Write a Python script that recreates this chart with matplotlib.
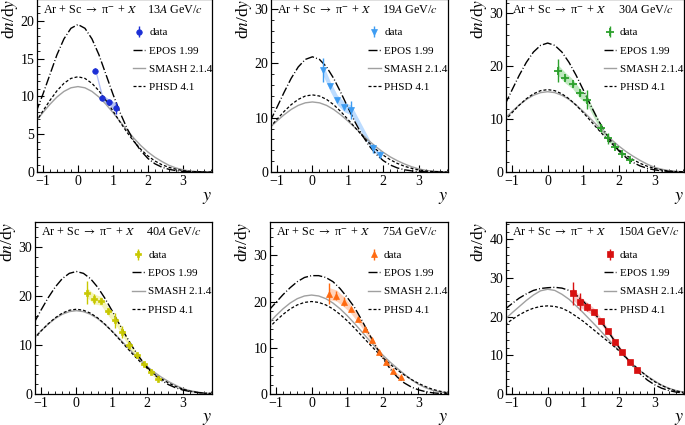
import numpy as np
import matplotlib
matplotlib.use("Agg")
import matplotlib.pyplot as plt
from matplotlib.ticker import MultipleLocator

plt.rcParams['font.family'] = ['Liberation Serif', 'DejaVu Serif']
plt.rcParams['mathtext.fontset'] = 'stix'

# rapidity grid of the model curves
y_grid = [-1.2, -1.0, -0.8, -0.6, -0.4, -0.2, 0.0, 0.2, 0.4, 0.6, 0.8, 1.0, 1.2,
          1.4, 1.6, 1.8, 2.0, 2.2, 2.4, 2.6, 2.8, 3.0, 3.2, 3.4, 3.6, 3.8]

momenta = ["13", "19", "30", "40", "75", "150"]

# EPOS 1.99
epos_13 = [7.9, 10.3, 12.9, 15.5, 17.6, 19.0, 19.5, 19.0, 17.6, 15.5, 12.9, 10.3, 7.9,
           5.8, 4.1, 2.8, 1.8, 1.1, 0.65, 0.37, 0.2, 0.1, 0.05, 0.02, 0.01, 0.0]
epos_19 = [9.26, 11.93, 14.67, 17.24, 19.34, 20.72, 21.2, 20.72, 19.34, 17.24, 14.67, 11.93, 9.26,
           6.86, 4.86, 3.29, 2.12, 1.31, 0.77, 0.43, 0.23, 0.12, 0.06, 0.03, 0.01, 0.0]
epos_30 = [12.75, 15.55, 18.29, 20.74, 22.7, 23.96, 24.4, 23.96, 22.7, 20.74, 18.29, 15.55, 12.75,
           10.09, 7.7, 5.67, 4.02, 2.76, 1.82, 1.16, 0.71, 0.43, 0.24, 0.13, 0.07, 0.03]
epos_40 = [14.45, 17.1, 19.6, 21.8, 23.53, 24.62, 25.0, 24.62, 23.53, 21.8, 19.6, 17.1, 14.45,
           11.87, 9.45, 7.29, 5.46, 3.97, 2.8, 1.91, 1.27, 0.82, 0.51, 0.31, 0.18, 0.1]
epos_75 = [18.1, 19.8, 21.5, 23.0, 24.3, 25.2, 25.6, 25.6, 25.2, 24.3, 22.8, 20.9, 18.8,
           16.1, 13.2, 10.4, 7.8, 5.5, 3.7, 2.4, 1.5, 0.9, 0.5, 0.25, 0.12, 0.05]
epos_150 = [21.9, 23.4, 24.8, 25.9, 26.8, 27.3, 27.5, 27.6, 27.4, 26.8, 25.6, 24.0, 22.0,
            19.9, 17.5, 14.8, 12.1, 9.5, 7.2, 5.2, 3.6, 2.4, 1.5, 0.9, 0.5, 0.3]

# SMASH 2.1.4
smash_13 = [6.7, 7.87, 8.96, 9.92, 10.66, 11.14, 11.3, 11.14, 10.66, 9.92, 8.96, 7.87, 6.7,
            5.56, 4.47, 3.49, 2.65, 1.96, 1.4, 0.9, 0.55, 0.3, 0.15, 0.07, 0.03, 0.01]
smash_19 = [8.19, 9.41, 10.54, 11.52, 12.27, 12.74, 12.9, 12.74, 12.27, 11.52, 10.54, 9.41, 8.19,
            6.95, 5.75, 4.64, 3.65, 2.8, 2.1, 1.5, 1.0, 0.6, 0.33, 0.18, 0.09, 0.04]
smash_30 = [10.13, 11.47, 12.69, 13.73, 14.53, 15.03, 15.2, 15.03, 14.53, 13.73, 12.69, 11.47, 10.13,
            8.75, 7.39, 6.1, 4.92, 3.89, 3.0, 2.2, 1.5, 0.9, 0.55, 0.3, 0.15, 0.07]
smash_40 = [11.4, 12.88, 14.23, 15.38, 16.26, 16.81, 17.0, 16.81, 16.26, 15.38, 14.23, 12.88, 11.4,
            9.87, 8.35, 6.91, 5.6, 4.43, 3.43, 2.55, 1.8, 1.1, 0.7, 0.4, 0.2, 0.1]
smash_75 = [15.3, 16.95, 18.43, 19.68, 20.62, 21.2, 21.4, 21.2, 20.62, 19.68, 18.43, 16.95, 15.3,
            13.55, 11.78, 10.06, 8.42, 6.93, 5.59, 4.3, 3.1, 2.1, 1.35, 0.8, 0.45, 0.22]
smash_150 = [19.3, 21.0, 22.6, 24.2, 25.6, 26.7, 27.1, 26.8, 25.8, 24.5, 22.8, 21.0, 19.1,
             17.2, 15.2, 13.2, 11.3, 9.4, 7.6, 6.0, 4.6, 3.4, 2.3, 1.5, 0.9, 0.5]

# PHSD 4.1
phsd_13 = [6.64, 8.08, 9.48, 10.74, 11.73, 12.38, 12.6, 12.38, 11.73, 10.74, 9.48, 8.08, 6.64,
           5.27, 4.04, 2.99, 2.13, 1.47, 0.97, 0.63, 0.39, 0.2, 0.1, 0.05, 0.02, 0.01]
phsd_19 = [8.23, 9.72, 11.15, 12.4, 13.37, 13.99, 14.2, 13.99, 13.37, 12.4, 11.15, 9.72, 8.23,
           6.76, 5.38, 4.16, 3.12, 2.27, 1.6, 1.08, 0.7, 0.4, 0.22, 0.11, 0.05, 0.02]
phsd_30 = [9.73, 11.24, 12.65, 13.87, 14.8, 15.4, 15.6, 15.4, 14.8, 13.87, 12.65, 11.24, 9.73,
           8.2, 6.74, 5.39, 4.21, 3.19, 2.36, 1.65, 1.1, 0.7, 0.4, 0.2, 0.1, 0.05]
phsd_40 = [11.26, 12.84, 14.29, 15.54, 16.49, 17.09, 17.3, 17.09, 16.49, 15.54, 14.29, 12.84, 11.26,
           9.64, 8.06, 6.58, 5.24, 4.08, 3.1, 2.25, 1.55, 1.0, 0.6, 0.33, 0.16, 0.08]
phsd_75 = [14.3, 15.84, 17.22, 18.4, 19.27, 19.81, 20.0, 19.81, 19.27, 18.4, 17.22, 15.84, 14.3,
           12.66, 11.01, 9.4, 7.87, 6.48, 5.22, 4.13, 3.15, 2.3, 1.6, 1.0, 0.6, 0.3]
phsd_150 = [17.9, 19.27, 20.47, 21.46, 22.2, 22.65, 22.8, 22.65, 22.2, 21.3, 20.1, 18.8, 17.3,
            15.8, 14.3, 12.8, 11.2, 9.4, 7.6, 6.0, 4.5, 3.2, 2.2, 1.4, 0.8, 0.45]

# data: rapidity, dn/dy, stat. error, syst. error
y_13 = [0.5, 0.7, 0.9, 1.1]
dndy_13 = [13.4, 9.8, 9.2, 8.5]
stat_13 = [0.3, 0.3, 0.3, 0.8]
sys_13 = [0.3, 0.4, 0.4, 0.6]

y_19 = [0.3, 0.5, 0.7, 0.9, 1.1, 1.7, 1.9]
dndy_19 = [18.8, 15.8, 13.3, 12.0, 11.4, 4.4, 3.2]
stat_19 = [2.2, 0.4, 0.4, 0.5, 1.7, 0.8, 0.6]
sys_19 = [1.0, 0.9, 0.9, 0.9, 0.9, 0.5, 0.4]

y_30 = [0.3, 0.5, 0.7, 0.9, 1.1, 1.5, 1.7, 1.9, 2.1, 2.3]
dndy_30 = [19.2, 17.8, 16.7, 14.9, 13.7, 8.3, 6.4, 4.8, 3.5, 2.3]
stat_30 = [2.2, 0.4, 0.4, 0.5, 1.8, 0.8, 1.0, 0.3, 0.3, 0.3]
sys_30 = [1.0, 1.0, 0.9, 0.9, 0.8, 0.6, 0.5, 0.4, 0.3, 0.3]

y_40 = [0.3, 0.5, 0.7, 0.9, 1.1, 1.3, 1.5, 1.7, 1.9, 2.1, 2.3]
dndy_40 = [20.7, 19.4, 19.0, 16.9, 15.0, 12.7, 9.9, 8.0, 6.1, 4.4, 3.1]
stat_40 = [2.4, 1.0, 0.5, 0.5, 1.6, 1.2, 0.8, 0.4, 0.4, 0.3, 0.3]
sys_40 = [1.0, 1.0, 0.9, 0.9, 0.8, 0.7, 0.6, 0.5, 0.4, 0.3, 0.3]

y_75 = [0.5, 0.7, 0.9, 1.1, 1.3, 1.5, 1.7, 1.9, 2.1, 2.3, 2.5]
dndy_75 = [21.7, 21.3, 20.0, 18.4, 16.3, 14.1, 11.6, 9.0, 6.9, 4.9, 3.6]
stat_75 = [2.2, 1.0, 1.0, 0.3, 0.3, 0.3, 0.3, 0.3, 0.3, 0.3, 0.3]
sys_75 = [1.3, 1.2, 1.1, 0.9, 0.8, 0.7, 0.6, 0.5, 0.4, 0.3, 0.3]

y_150 = [0.7, 0.9, 1.1, 1.3, 1.5, 1.7, 1.9, 2.1, 2.3, 2.5]
dndy_150 = [26.1, 23.9, 22.6, 21.2, 18.8, 16.2, 13.5, 10.8, 8.3, 6.1]
stat_150 = [3.0, 2.2, 1.0, 0.5, 0.4, 0.4, 0.4, 0.3, 0.3, 0.3]
sys_150 = [1.6, 1.4, 1.2, 1.0, 0.8, 0.7, 0.6, 0.5, 0.4, 0.3]

panels = [
    (epos_13, smash_13, phsd_13, y_13, dndy_13, stat_13, sys_13),
    (epos_19, smash_19, phsd_19, y_19, dndy_19, stat_19, sys_19),
    (epos_30, smash_30, phsd_30, y_30, dndy_30, stat_30, sys_30),
    (epos_40, smash_40, phsd_40, y_40, dndy_40, stat_40, sys_40),
    (epos_75, smash_75, phsd_75, y_75, dndy_75, stat_75, sys_75),
    (epos_150, smash_150, phsd_150, y_150, dndy_150, stat_150, sys_150),
]

colors = ["#1c2fd6", "#3d9cf2", "#2ca02c", "#c8c800", "#ff6a10", "#d81010"]
band_colors = ["#b4c0f4", "#bcdcff", "#bfe8bf", "#f4f4b8", "#ffd4bc", "#f8c4c4"]
markers = ["o", "v", "+", "P", "^", "s"]
ymax = [22.85, 31.8, 32.7, 35.1, 37.2, 44.5]
ymajor = [5, 10, 10, 10, 10, 10]
yminor = [1, 2, 2, 2, 2, 2]

positions = [
    [0.054, 0.595, 0.2555, 0.407],
    [0.3956, 0.595, 0.2584, 0.407],
    [0.7387, 0.595, 0.2599, 0.407],
    [0.051, 0.073, 0.2585, 0.4046],
    [0.394, 0.073, 0.2600, 0.4046],
    [0.7387, 0.073, 0.2599, 0.4046],
]

fig = plt.figure(figsize=(6.85, 4.25), dpi=100)

for i, (epos, smash, phsd, yd, nd, st, sy) in enumerate(panels):
    ax = fig.add_axes(positions[i])
    nd = np.array(nd)
    sy = np.array(sy)
    ax.fill_between(yd, nd - sy, nd + sy, color=band_colors[i], lw=0, zorder=1)
    ax.plot(y_grid, smash, color="#a0a0a0", lw=1.0, label="SMASH 2.1.4", zorder=2)
    ax.plot(y_grid, phsd, color="black", lw=0.9, dashes=(2.4, 1.6),
            label="PHSD 4.1", zorder=3)
    ax.plot(y_grid, epos, color="black", lw=1.0, dashes=(6.5, 1.6, 0.7, 1.6),
            label="EPOS 1.99", zorder=4)
    ms = 6 if markers[i] == "+" else 4
    ax.errorbar(yd, nd, yerr=st, fmt=markers[i], color=colors[i], ms=ms,
                mew=1.3 if markers[i] == "+" else 0.5, elinewidth=1.0,
                capsize=0, label="data", zorder=5)

    ax.set_xlim(-1.17, 3.83)
    ax.set_ylim(0, ymax[i])
    ax.xaxis.set_major_locator(MultipleLocator(1))
    ax.xaxis.set_minor_locator(MultipleLocator(0.2))
    ax.yaxis.set_major_locator(MultipleLocator(ymajor[i]))
    ax.yaxis.set_minor_locator(MultipleLocator(yminor[i]))
    ax.tick_params(which="both", direction="in", top=False, right=False,
                   labelsize=10, pad=2)
    ax.tick_params(which="major", length=5, width=0.8)
    ax.tick_params(which="minor", length=2.5, width=0.6)
    for sp in ax.spines.values():
        sp.set_linewidth(0.9)

    ax.text(0.035, 0.94, r"Ar + Sc $\rightarrow$ π$^{-}$ + $X$",
            transform=ax.transAxes, fontsize=8.7, va="center", ha="left")
    ax.text(0.63, 0.94, momenta[i] + r"$A$ GeV/$c$",
            transform=ax.transAxes, fontsize=8.7, va="center", ha="left")

    ax.set_ylabel(r"d$n$/d$y$", fontsize=12.5, loc="top", labelpad=0)
    ax.set_xlabel(r"$y$", fontsize=13, loc="right", labelpad=0.5)

    h, l = ax.get_legend_handles_labels()
    order = [l.index("data"), l.index("EPOS 1.99"), l.index("SMASH 2.1.4"),
             l.index("PHSD 4.1")]
    ax.legend([h[k] for k in order], [l[k] for k in order], loc="upper left",
              bbox_to_anchor=(0.55, 0.835), frameon=False, fontsize=8,
              handlelength=1.1, handletextpad=0.35, labelspacing=0.75,
              borderaxespad=0, borderpad=0)

fig.savefig("out.png", dpi=100)
plt.close(fig)
